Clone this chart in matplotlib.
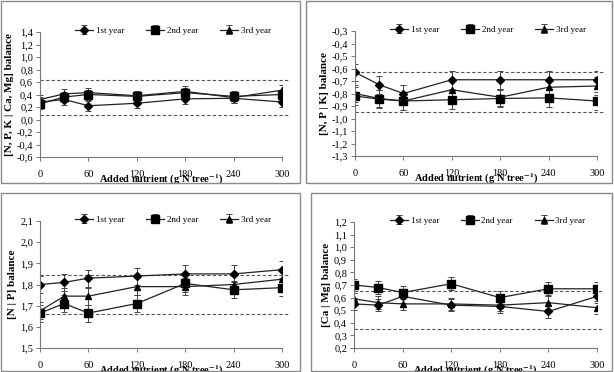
import numpy as np
import matplotlib
matplotlib.use('Agg')
import matplotlib.pyplot as plt
from matplotlib.patches import Rectangle
from matplotlib.ticker import FuncFormatter

plt.rcParams['font.family'] = ['Liberation Serif', 'DejaVu Serif']
plt.rcParams['mathtext.fontset'] = 'stix'

W, H = 614, 372

# dose of added nutrient
doses = [0, 30, 60, 120, 180, 240, 300]

# panel 1: [N, P, K | Ca, Mg]
p1_y1 = [0.28, 0.32, 0.22, 0.26, 0.33, 0.34, 0.28]
p1_y2 = [0.25, 0.36, 0.40, 0.37, 0.43, 0.37, 0.40]
p1_y3 = [0.32, 0.41, 0.43, 0.38, 0.45, 0.35, 0.47]
p1_err = [0.08, 0.08, 0.08, 0.08, 0.08, 0.08, 0.08]
p1_ref = [0.63, 0.08]

# panel 2: [N, P | K]
p2_y1 = [-0.63, -0.73, -0.80, -0.69, -0.69, -0.69, -0.69]
p2_y2 = [-0.82, -0.845, -0.86, -0.85, -0.84, -0.835, -0.86]
p2_y3 = [-0.80, -0.84, -0.86, -0.77, -0.83, -0.75, -0.74]
p2_err = [0.07, 0.07, 0.07, 0.07, 0.07, 0.07, 0.07]
p2_ref = [-0.63, -0.95]

# panel 3: [N | P]
p3_y1 = [1.80, 1.81, 1.83, 1.84, 1.85, 1.85, 1.87]
p3_y2 = [1.665, 1.71, 1.665, 1.71, 1.805, 1.775, 1.785]
p3_y3 = [1.675, 1.745, 1.745, 1.79, 1.79, 1.80, 1.825]
p3_err = [0.04, 0.04, 0.04, 0.04, 0.04, 0.04, 0.04]
p3_ref = [1.845, 1.66]

# panel 4: [Ca | Mg]
p4_y1 = [0.55, 0.54, 0.61, 0.54, 0.53, 0.49, 0.61]
p4_y2 = [0.70, 0.68, 0.64, 0.71, 0.60, 0.67, 0.67]
p4_y3 = [0.59, 0.56, 0.55, 0.55, 0.54, 0.56, 0.52]
p4_err = [0.05, 0.05, 0.05, 0.05, 0.05, 0.05, 0.05]
p4_ref = [0.65, 0.35]

labels = ['1st year', '2nd year', '3rd year']
markers = ['D', 's', '^']
msizes = [4, 5.5, 5]

fig = plt.figure(figsize=(W / 100, H / 100), dpi=100)

def box(x0, y0, x1, y1):
    fig.patches.append(Rectangle((x0 / W, 1 - y1 / H), (x1 - x0) / W, (y1 - y0) / H,
                                 transform=fig.transFigure, fill=False,
                                 edgecolor='#8a8a8a', lw=1.0))

def comma(v, pos):
    return ('%.1f' % v).replace('.', ',')

def panel(x0, ytop, x1, ybot, ylim, step, series, err, ref, ylabel):
    ax = fig.add_axes([x0 / W, 1 - ybot / H, (x1 - x0) / W, (ybot - ytop) / H])
    for ys, m, ms, lab in zip(series, markers, msizes, labels):
        ax.errorbar(doses, ys, yerr=err, color='#222222', lw=0.9, marker=m, ms=ms,
                    mfc='black', mec='black', ecolor='#444444', elinewidth=0.7,
                    capsize=2, capthick=0.7, label=lab)
    for r in ref:
        ax.axhline(r, color='#555555', lw=0.8, ls=(0, (3, 2)), xmin=0, xmax=1.03, clip_on=False)
    ax.set_xlim(0, 300)
    ax.set_ylim(*ylim)
    ax.set_yticks(np.arange(ylim[0], ylim[1] + step / 2, step))
    ax.set_xticks([0, 60, 120, 180, 240, 300])
    ax.yaxis.set_major_formatter(FuncFormatter(comma))
    for s in ['top', 'right']:
        ax.spines[s].set_visible(False)
    for s in ['left', 'bottom']:
        ax.spines[s].set_color('#777777')
        ax.spines[s].set_linewidth(0.8)
    ax.tick_params(axis='both', labelsize=7.5, length=3, width=0.7, color='#777777', pad=2)
    ax.tick_params(axis='x', pad=6)
    ax.set_xlabel(r'Added nutrient (g N tree$^{\mathbf{-1}}$)', fontsize=7.5,
                  fontweight='bold', labelpad=-4)
    ax.set_ylabel(ylabel, fontsize=8, fontweight='bold', labelpad=2)
    ax.legend(ncol=3, loc='lower center', bbox_to_anchor=(0.55, 0.94), frameon=False,
              fontsize=6.5, handlelength=2.0, columnspacing=2.4, handletextpad=0.3,
              borderpad=0)
    return ax

box(1, 1, 300, 183)
box(306, 1, 612, 183)
box(1, 193, 300, 371)
box(311, 193, 612, 371)

panel(40, 32, 282, 157, (-0.6, 1.4), 0.2, [p1_y1, p1_y2, p1_y3], p1_err, p1_ref,
      '[N, P, K | Ca, Mg] balance')
panel(355, 31, 597, 156, (-1.3, -0.3), 0.1, [p2_y1, p2_y2, p2_y3], p2_err, p2_ref,
      '[N, P | K] balance')
panel(40, 221, 282, 348, (1.5, 2.1), 0.1, [p3_y1, p3_y2, p3_y3], p3_err, p3_ref,
      '[N | P] balance')
panel(354, 222, 597, 348, (0.2, 1.2), 0.1, [p4_y1, p4_y2, p4_y3], p4_err, p4_ref,
      '[Ca | Mg] balance')

fig.savefig('out.png', dpi=100)
